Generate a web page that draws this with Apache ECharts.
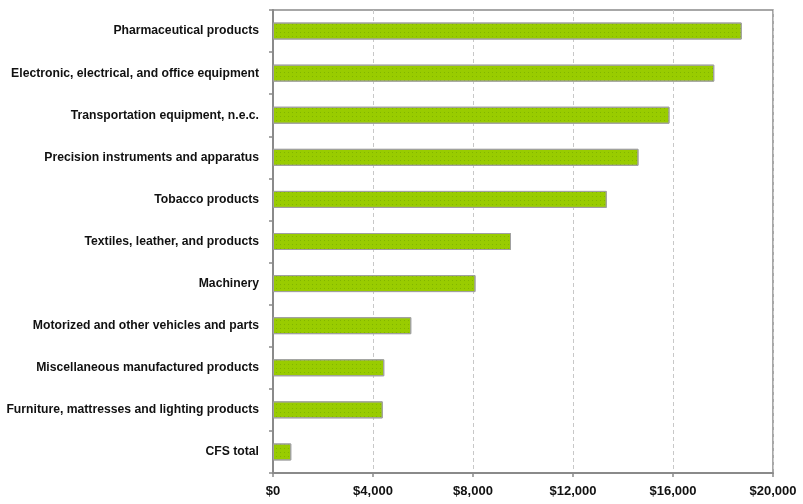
<!DOCTYPE html>
<html><head><meta charset="utf-8">
<script src="https://cdn.jsdelivr.net/npm/echarts@6/dist/echarts.min.js"></script>
<style>html,body{margin:0;padding:0;background:#fff}#c{width:803px;height:504px}</style>
</head><body><div id="c"></div>
<script>
const categories = [
  "Pharmaceutical products",
  "Electronic, electrical, and office equipment",
  "Transportation equipment, n.e.c.",
  "Precision instruments and apparatus",
  "Tobacco products",
  "Textiles, leather, and products",
  "Machinery",
  "Motorized and other vehicles and parts",
  "Miscellaneous manufactured products",
  "Furniture, mattresses and lighting products",
  "CFS total"
];
const values = [18750, 17650, 15860, 14620, 13350, 9520, 8100, 5530, 4450, 4390, 730];
const xTicks = [0, 4000, 8000, 12000, 16000, 20000];

const chart = echarts.init(document.getElementById('c'), null, {renderer: 'canvas'});
chart.setOption({
  animation: false,
  backgroundColor: '#fff',
  grid: {left: 273, right: 30, top: 10, bottom: 31, show: true, borderColor: '#8a8a8a', borderWidth: 1.5, backgroundColor: 'transparent'},
  xAxis: {
    type: 'value', min: xTicks[0], max: xTicks[xTicks.length - 1], interval: 4000,
    axisLine: {show: true, lineStyle: {color: '#8a8a8a', width: 2}},
    axisTick: {show: true, length: 4, lineStyle: {color: '#8a8a8a', width: 1.5}},
    splitLine: {show: true, lineStyle: {color: '#c8c8c8', type: [4, 3], width: 1}},
    axisLabel: {
      margin: 12, color: '#111', fontFamily: 'Liberation Sans', fontWeight: 'bold', fontSize: 13,
      formatter: v => '$' + v.toLocaleString('en-US')
    }
  },
  yAxis: {
    type: 'category', data: categories, inverse: true,
    axisLine: {show: true, lineStyle: {color: '#8a8a8a', width: 2}},
    axisTick: {show: true, length: 4, lineStyle: {color: '#8a8a8a', width: 1.5}},
    splitLine: {show: false},
    axisLabel: {margin: 14, color: '#111', fontFamily: 'Liberation Sans', fontWeight: 'bold', fontSize: 12.2}
  },
  series: [{
    type: 'bar', data: values, barWidth: 17,
    itemStyle: {
      color: '#99cc00', borderColor: '#a0a0a0', borderWidth: 1,
      decal: {symbol: 'rect', symbolSize: 1, color: 'rgba(60,110,0,0.25)', dashArrayX: [1, 3], dashArrayY: [1, 3]}
    }
  }]
});
</script></body></html>
